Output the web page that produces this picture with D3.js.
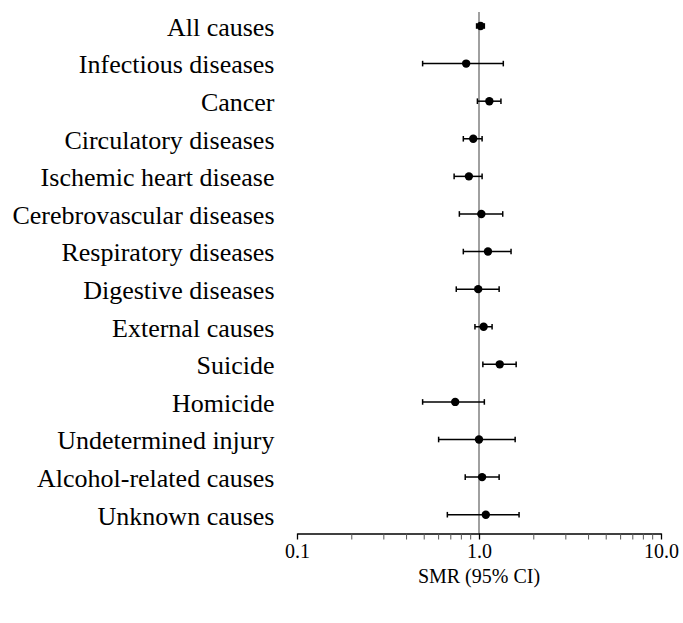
<!DOCTYPE html>
<html>
  <head>
    <script src="https://cdn.jsdelivr.net/npm/d3@7"></script>
    <style>
      svg, svg text { font-family: 'Liberation Serif', Tinos, 'Times New Roman', Times, serif !important; }
    </style>
  </head>
  <body style="margin: 0">
    <svg width="683" height="623" id="mainsvg" font-family="Liberation Serif"></svg>
    <script>
      const causes = ['All causes', 'Infectious diseases', 'Cancer', 'Circulatory diseases',
        'Ischemic heart disease', 'Cerebrovascular diseases', 'Respiratory diseases',
        'Digestive diseases', 'External causes', 'Suicide', 'Homicide',
        'Undetermined injury', 'Alcohol-related causes', 'Unknown causes'];
      const smr   = [1.02, 0.85, 1.14, 0.93, 0.88, 1.03, 1.12, 0.99, 1.06, 1.30, 0.74, 1.00, 1.04, 1.09];
      const lower = [0.97, 0.49, 0.98, 0.82, 0.73, 0.78, 0.82, 0.75, 0.95, 1.05, 0.49, 0.60, 0.84, 0.67];
      const upper = [1.07, 1.36, 1.32, 1.04, 1.04, 1.35, 1.50, 1.29, 1.18, 1.60, 1.07, 1.58, 1.29, 1.66];
      const majorTicks = [0.1, 1, 10];
      const tickLabels = ['0.1', '1.0', '10.0'];
      const xAxisLabel = 'SMR (95% CI)';

      const fontFamily = 'Liberation Serif';
      const svg = d3.select('#mainsvg');
      const rows = causes.map((c, i) => ({ cause: c, smr: smr[i], lo: lower[i], hi: upper[i] }));

      const xScale = d3.scaleLog().domain([0.1, 10]).range([297, 661]);
      const yScale = d3.scalePoint().domain(causes).range([26, 514.7]);
      const axisY = 533.5;

      // labels
      svg.selectAll('.cause_text')
        .data(rows)
        .enter().append('text')
        .attr('class', 'cause_text')
        .attr('x', 274.5)
        .attr('y', d => yScale(d.cause))
        .attr('dy', '0.38em')
        .attr('text-anchor', 'end')
        .attr('font-size', 26)
        .attr('font-family', fontFamily)
        .style('font-family', fontFamily)
        .text(d => d.cause);

      // minor ticks 0.2..0.9, 2..9
      const minorTicks = [];
      [0.1, 1].forEach(base => { for (let k = 2; k <= 9; k++) minorTicks.push(+(base * k).toFixed(2)); });

      // reference line at 1
      svg.append('line')
        .attr('x1', xScale(1)).attr('x2', xScale(1))
        .attr('y1', 12).attr('y2', axisY)
        .attr('stroke', '#808080').attr('stroke-width', 1.5);

      // axis
      const xAxis = d3.axisBottom(xScale)
        .tickValues(majorTicks)
        .tickFormat((d, i) => tickLabels[i])
        .tickSize(6)
        .tickPadding(4)
        .tickSizeOuter(0);
      const xAxisGroup = svg.append('g')
        .attr('transform', `translate(0, ${axisY})`)
        .call(xAxis)
        .attr('font-family', fontFamily)
        .attr('font-size', 20);
      xAxisGroup.select('.domain').attr('stroke', '#000').attr('stroke-width', 1.3);
      xAxisGroup.selectAll('.tick line').attr('stroke', '#000').attr('stroke-width', 1.3);
      xAxisGroup.selectAll('.tick text')
        .attr('fill', '#000')
        .attr('font-family', fontFamily)
        .style('font-family', fontFamily);
      xAxisGroup.selectAll('.minor')
        .data(minorTicks)
        .enter().append('line')
        .attr('class', 'minor')
        .attr('x1', d => xScale(d)).attr('x2', d => xScale(d))
        .attr('y1', 0).attr('y2', 6)
        .attr('stroke', '#555').attr('stroke-width', 1);

      svg.append('text')
        .text(xAxisLabel)
        .attr('x', xScale(1))
        .attr('y', 583)
        .attr('text-anchor', 'middle')
        .attr('font-size', 20)
        .attr('font-family', fontFamily)
        .style('font-family', fontFamily);

      // error bars
      const g = svg.append('g');
      const bars = g.selectAll('.row')
        .data(rows)
        .enter().append('g')
        .attr('class', 'row')
        .attr('transform', d => `translate(0, ${yScale(d.cause)})`);
      bars.append('line')
        .attr('x1', d => xScale(d.lo)).attr('x2', d => xScale(d.hi))
        .attr('stroke', '#000').attr('stroke-width', 1.5);
      bars.append('line')
        .attr('x1', d => xScale(d.lo)).attr('x2', d => xScale(d.lo))
        .attr('y1', -2.8).attr('y2', 2.8)
        .attr('stroke', '#000').attr('stroke-width', 1.5);
      bars.append('line')
        .attr('x1', d => xScale(d.hi)).attr('x2', d => xScale(d.hi))
        .attr('y1', -2.8).attr('y2', 2.8)
        .attr('stroke', '#000').attr('stroke-width', 1.5);
      bars.append('circle')
        .attr('cx', d => xScale(d.smr))
        .attr('r', 4.2)
        .attr('fill', '#000');
    </script>
  </body>
</html>
